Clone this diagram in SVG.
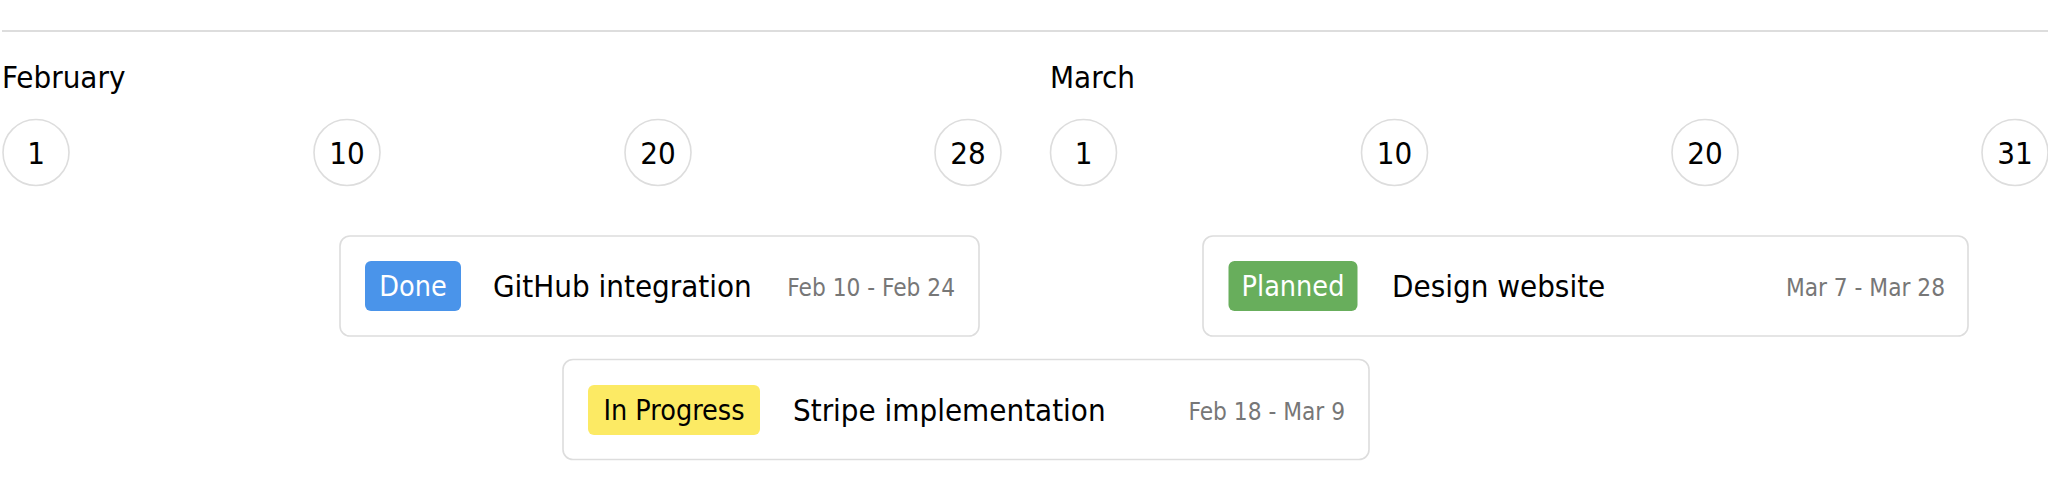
<svg xmlns="http://www.w3.org/2000/svg" width="2048" height="490" viewBox="0 0 2048 490">
<style>
text{font-family:"DejaVu Sans Condensed","DejaVu Sans",sans-serif;font-stretch:condensed;}
.month{font-size:31px;fill:#000;}
.day{font-size:31px;fill:#000;text-anchor:middle;}
.dayc{fill:#fff;stroke:#dddddd;stroke-width:1.6;}
.card{fill:#fff;stroke:#dddddd;stroke-width:1.6;}
.badge-t{font-size:28.5px;text-anchor:middle;}
.name{font-size:31px;fill:#000;}
.date{font-size:24.2px;fill:#777;text-anchor:end;}
</style>
<rect x="0" y="0" width="2048" height="490" fill="#fff"/>
<line x1="2" y1="31" x2="2048" y2="31" stroke="#dddddd" stroke-width="2"/>
<g id="month-feb">
<text class="month" x="2" y="88">February</text>
<g id="feb-1"><circle class="dayc" cx="36" cy="152.5" r="33"/><text class="day" x="36" y="164">1</text></g>
<g id="feb-10"><circle class="dayc" cx="347" cy="152.5" r="33"/><text class="day" x="347" y="164">10</text></g>
<g id="feb-20"><circle class="dayc" cx="658" cy="152.5" r="33"/><text class="day" x="658" y="164">20</text></g>
<g id="feb-28"><circle class="dayc" cx="968" cy="152.5" r="33"/><text class="day" x="968" y="164">28</text></g>
</g>
<g id="month-mar">
<text class="month" x="1050" y="88">March</text>
<g id="mar-1"><circle class="dayc" cx="1083.5" cy="152.5" r="33"/><text class="day" x="1083.5" y="164">1</text></g>
<g id="mar-10"><circle class="dayc" cx="1394.5" cy="152.5" r="33"/><text class="day" x="1394.5" y="164">10</text></g>
<g id="mar-20"><circle class="dayc" cx="1705" cy="152.5" r="33"/><text class="day" x="1705" y="164">20</text></g>
<g id="mar-31"><circle class="dayc" cx="2015" cy="152.5" r="33"/><text class="day" x="2015" y="164">31</text></g>
</g>
<g id="connectors"></g>
<g id="task-github">
<rect class="card" x="340" y="236" width="639" height="100" rx="10"/>
<rect x="365" y="261" width="96" height="50" rx="6" fill="#4a94ea"/>
<text class="badge-t" x="413" y="296" fill="#fff">Done</text>
<text class="name" x="493" y="297">GitHub integration</text>
<text class="date" x="955" y="296">Feb 10 - Feb 24</text>
</g>
<g id="task-stripe">
<rect class="card" x="563" y="359.5" width="806" height="100" rx="10"/>
<rect x="588" y="385" width="172" height="50" rx="6" fill="#fcea64"/>
<text class="badge-t" x="674" y="420" fill="#000">In Progress</text>
<text class="name" x="793" y="421">Stripe implementation</text>
<text class="date" x="1345" y="419.5">Feb 18 - Mar 9</text>
</g>
<g id="task-design">
<rect class="card" x="1203" y="236" width="765" height="100" rx="10"/>
<rect x="1228.5" y="261" width="129" height="50" rx="6" fill="#68ae5c"/>
<text class="badge-t" x="1293" y="296" fill="#fff">Planned</text>
<text class="name" x="1392" y="297">Design website</text>
<text class="date" x="1945" y="296">Mar 7 - Mar 28</text>
</g>
</svg>
